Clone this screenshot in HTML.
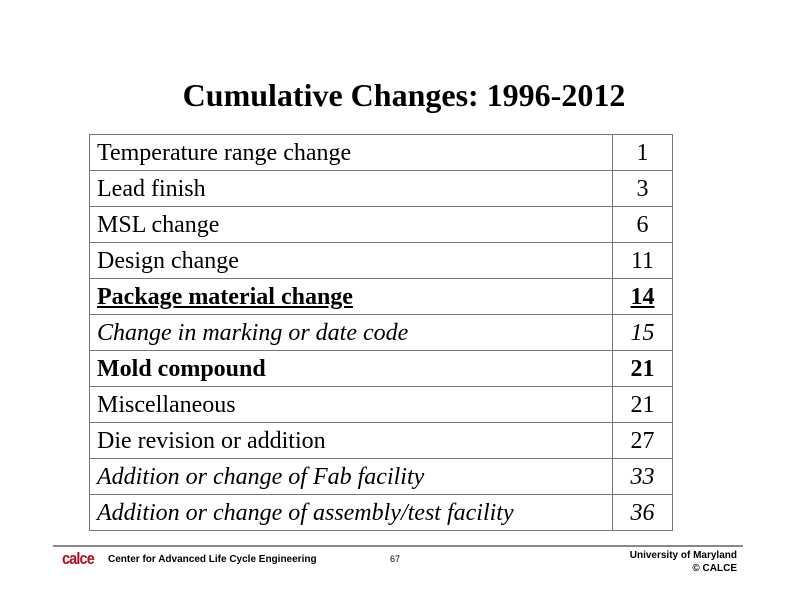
<!DOCTYPE html>
<html><head><style>
body{margin:0;width:792px;height:612px;background:#fff;position:relative;overflow:hidden;font-family:"Liberation Serif",serif}
.t{position:absolute;top:77px;left:0;width:808px;text-align:center;font-weight:bold;font-size:32px}
table{position:absolute;left:89px;top:134px;border-collapse:collapse}
td{border:1px solid #777;height:35px;padding:2px 0 0 7px;font-size:24px;line-height:33px;box-sizing:border-box}
td.n{width:60px;text-align:center;padding:2px 0 0 0}
td.l{width:523px}
.f{position:absolute;font-family:"Liberation Sans",sans-serif;font-size:10px}
</style></head><body>
<div class="t">Cumulative Changes: 1996-2012</div>
<table>
<tr><td class="l">Temperature range change</td><td class="n">1</td></tr>
<tr><td class="l">Lead finish</td><td class="n">3</td></tr>
<tr><td class="l">MSL change</td><td class="n">6</td></tr>
<tr><td class="l">Design change</td><td class="n">11</td></tr>
<tr><td class="l"><b><u>Package material change</u></b></td><td class="n"><b><u>14</u></b></td></tr>
<tr><td class="l"><i>Change in marking or date code</i></td><td class="n"><i>15</i></td></tr>
<tr><td class="l"><b>Mold compound</b></td><td class="n"><b>21</b></td></tr>
<tr><td class="l">Miscellaneous</td><td class="n">21</td></tr>
<tr><td class="l">Die revision or addition</td><td class="n">27</td></tr>
<tr><td class="l"><i>Addition or change of Fab facility</i></td><td class="n"><i>33</i></td></tr>
<tr><td class="l"><i>Addition or change of assembly/test facility</i></td><td class="n"><i>36</i></td></tr>
</table>
<div style="position:absolute;left:53px;top:545px;width:690px;height:2px;background:#888"></div>
<div class="f" style="left:62px;top:549px;color:#b01020;font-size:17px;font-weight:bold;letter-spacing:-1px;transform:scaleX(0.85);transform-origin:left">calce</div>
<div class="f" style="left:108px;top:554px;font-weight:bold">Center for Advanced Life Cycle Engineering</div>
<div class="f" style="left:390px;top:554px;font-size:9px">67</div>
<div class="f" style="right:55px;top:549px;font-weight:bold;text-align:right;line-height:13px">University of Maryland<br>© CALCE</div>
</body></html>
